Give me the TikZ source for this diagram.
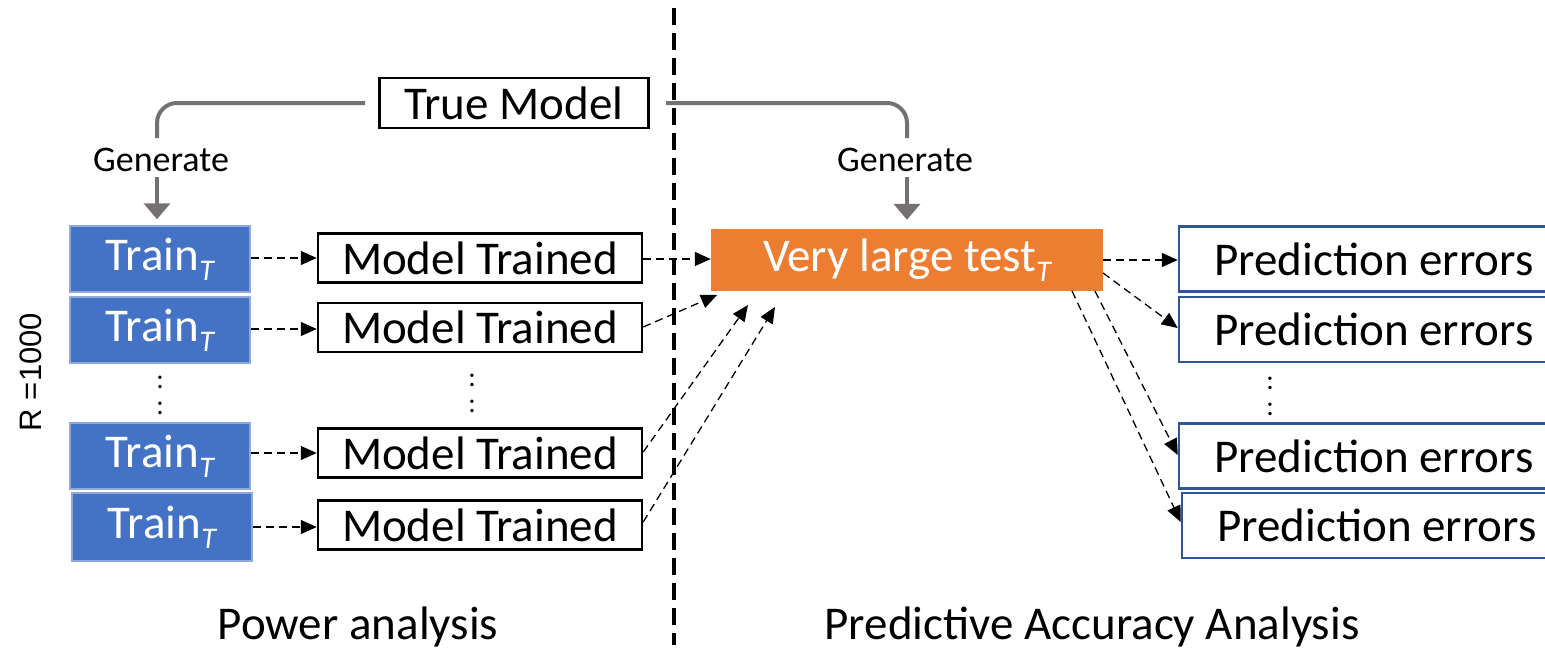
\documentclass[tikz,border=0pt]{standalone}
\usepackage{fontspec}
\setmainfont{Carlito}
\newfontfamily\arialfont{Liberation Sans}
\usetikzlibrary{arrows.meta}
\definecolor{tblue}{HTML}{4472C4}
\definecolor{tblueedge}{HTML}{8EA9DB}
\definecolor{pblue}{HTML}{2F5597}
\definecolor{torange}{HTML}{ED7D31}
\definecolor{cgray}{HTML}{767171}
\newcommand\myBig{\fontsize{47}{50}\selectfont}
\newcommand\myMid{\fontsize{36}{40}\selectfont}
\newcommand\subT{\raisebox{-0.22em}{\fontsize{30}{30}\selectfont\itshape T}}
\tikzset{
  trainbox/.style={draw=tblueedge, line width=1.5pt, fill=tblue, text=white,
    minimum width=180pt, minimum height=66pt, inner sep=0pt, font=\myBig},
  mtbox/.style={draw=black, line width=2.5pt, fill=white,
    minimum width=324pt, minimum height=49pt, inner sep=0pt, font=\myBig},
  pebox/.style={draw=pblue, line width=2.5pt, fill=white,
    minimum width=390pt, minimum height=65pt, inner sep=0pt, font=\myBig},
  darr/.style={draw=black, line width=1.3pt, dash pattern=on 8pt off 5pt,
    -{Triangle[length=16pt,width=14pt]}},
  garr/.style={draw=cgray, line width=4pt, -{Triangle[length=16pt,width=26pt]}},
  gline/.style={draw=cgray, line width=4pt, rounded corners=20pt},
  dotsty/.style={inner sep=0pt, font=\fontsize{28}{30}\selectfont},
  lbl/.style={inner sep=0pt, font=\myBig, anchor=base},
}
\begin{document}
\begin{tikzpicture}[x=1pt,y=-1pt]
\useasboundingbox (0,0) rectangle (1545,648);
\clip (0,0) rectangle (1545,648);

% divider
\coordinate (vt) at (674,8);
\coordinate (vb) at (674,645);
\draw[line width=3.5pt, dash pattern=on 17pt off 8pt] (vt) -- (vb);

% true model
\node[draw=black, line width=2.5pt, fill=white, minimum width=269pt, minimum height=50pt,
      inner sep=0pt, font=\myBig] (tm) at (514,103) {True Model};

% train boxes
\node[trainbox] (tr1) at (160,259) {Train\subT};
\node[trainbox] (tr2) at (160,330) {Train\subT};
\node[trainbox] (tr3) at (160,456) {Train\subT};
\node[trainbox, minimum height=68pt] (tr4) at (162,527) {Train\subT};

% model trained
\node[mtbox] (mt1) at (480,258) {Model Trained};
\node[mtbox] (mt2) at (480,327.5) {Model Trained};
\node[mtbox] (mt3) at (480,453) {Model Trained};
\node[mtbox] (mt4) at (480,525) {Model Trained};

% very large test
\node[fill=torange, text=white, minimum width=392pt, minimum height=62pt, inner sep=0pt,
      font=\myBig] (vlt) at (907,260) {Very large test\subT};

% prediction errors (right edges run off the page)
\node[pebox] (pe1) at (1374,259) {Prediction errors\hspace{9pt}};
\node[pebox] (pe2) at (1374,329.5) {Prediction errors\hspace{9pt}};
\node[pebox] (pe3) at (1374,456) {Prediction errors\hspace{9pt}};
\node[pebox] (pe4) at (1377,525.5) {Prediction errors\hspace{15pt}};

% generate connectors
\coordinate (gl0) at (365,103);
\coordinate (gl1) at (157,138);
\coordinate (gl2) at (157,177);
\draw[gline] (gl0) -| (gl1);
\node[inner sep=0pt, font=\myMid] (gen1) at (161,160) {Generate};
\draw[garr] (gl2) -- ([yshift=6pt]gl2 |- tr1.north);

\coordinate (gr0) at (666,103);
\coordinate (gr1) at (907,138);
\coordinate (gr2) at (907,177);
\draw[gline] (gr0) -| (gr1);
\node[inner sep=0pt, font=\myMid] (gen2) at (905,160) {Generate};
\draw[garr] (gr2) -- ([yshift=9pt]gr2 |- vlt.north);

% train -> model
\draw[darr] (tr1.east |- 0,258) -- (mt1.west |- 0,258);
\draw[darr] (tr2.east |- 0,329) -- (mt2.west |- 0,329);
\draw[darr] (tr3.east |- 0,453) -- (mt3.west |- 0,453);
\draw[darr] (tr4.east |- 0,527) -- (mt4.west |- 0,527);

% model -> very large test
\coordinate (in2) at (717,295);
\coordinate (in3) at (748,305);
\coordinate (in4) at (775,307);
\draw[darr] (mt1.east |- 0,259) -- (vlt.west |- 0,259);
\draw[darr] (mt2.east |- 0,327) -- (in2);
\draw[darr] (mt3.east |- 0,452) -- (in3);
\draw[darr] (mt4.east |- 0,522) -- (in4);

% very large test -> prediction errors
\coordinate (o2) at (1103,273);
\coordinate (o3) at (1095,291);
\coordinate (o4) at (1072,291);
\draw[darr] (vlt.east |- 0,260) -- (pe1.west |- 0,260);
\draw[darr] (o2) -- (pe2.west |- 0,328);
\draw[darr] (o3) -- (pe3.west |- 0,455);
\draw[darr] (o4) -- (pe4.west |- 0,522);

% dots
\node[dotsty] (d1) at (160,382) {:};
\node[dotsty] (d2) at (160,408) {:};
\node[dotsty] (d3) at (472,380) {:};
\node[dotsty] (d4) at (472,406) {:};
\node[dotsty] (d5) at (1270,383) {:};
\node[dotsty] (d6) at (1270,409) {:};

% labels
\node[lbl] (pa) at (358,639) {Power analysis};
\node[lbl] (paa) at (1092,639) {Predictive Accuracy Analysis};
\node[inner sep=0pt, rotate=90, font=\arialfont\fontsize{31}{34}\selectfont] (rl) at (31,372) {R =1000};
\end{tikzpicture}
\end{document}
